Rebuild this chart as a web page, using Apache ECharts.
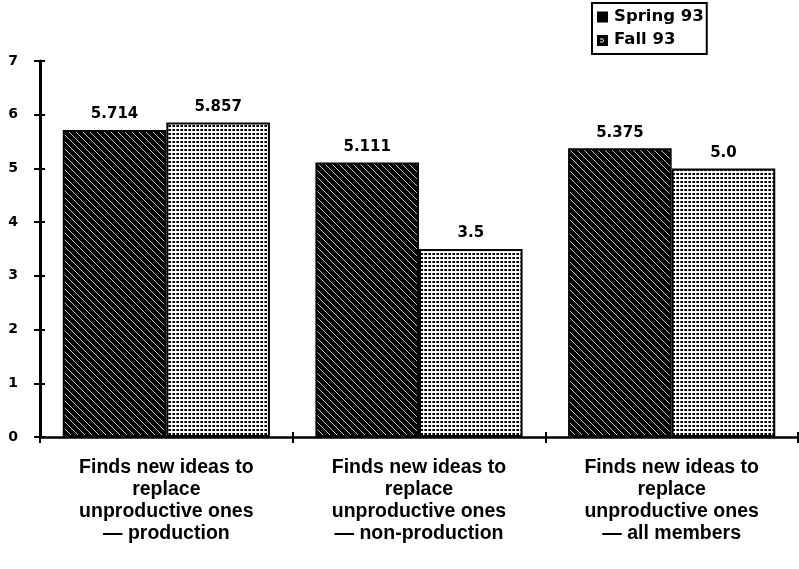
<!DOCTYPE html>
<html>
<head>
<meta charset="utf-8">
<script src="https://cdn.jsdelivr.net/npm/echarts@6/dist/echarts.min.js"></script>
<style>
  html, body { margin: 0; padding: 0; background: #fff; }
  #chart { width: 799px; height: 569px; }
</style>
</head>
<body>
<div id="chart"></div>
<script>
// Survey item: "Finds new ideas to replace unproductive ones"
const categories = [
  'Finds new ideas to\nreplace\nunproductive ones\n\u2014 production',
  'Finds new ideas to\nreplace\nunproductive ones\n\u2014 non-production',
  'Finds new ideas to\nreplace\nunproductive ones\n\u2014 all members'
];
const seriesNames = ['Spring 93', 'Fall 93'];
const spring93 = [5.714, 5.111, 5.375];
const fall93 = [5.857, 3.5, 5.0];
const yTicks = [0, 1, 2, 3, 4, 5, 6, 7];

// Dark fill with light diagonal hatching
function hatchPattern() {
  const c = document.createElement('canvas');
  c.width = 7; c.height = 7;
  const g = c.getContext('2d');
  g.fillStyle = '#000';
  g.fillRect(0, 0, 7, 7);
  g.strokeStyle = '#c8c8c8';
  g.lineWidth = 1;
  g.beginPath();
  g.moveTo(-1, -1); g.lineTo(8, 8);
  g.stroke();
  return c;
}

// Light fill covered with a grid of black dots
function dotPattern() {
  const c = document.createElement('canvas');
  c.width = 4; c.height = 4;
  const g = c.getContext('2d');
  g.fillStyle = '#fff';
  g.fillRect(0, 0, 4, 4);
  g.fillStyle = '#000';
  g.fillRect(1, 1, 2, 2);
  g.fillStyle = '#666';
  g.fillRect(0, 1, 1, 2);
  return c;
}

// Small legend swatch: dark square with a light mark
function fallSwatch() {
  const c = document.createElement('canvas');
  c.width = 11; c.height = 11;
  const g = c.getContext('2d');
  g.fillStyle = '#000';
  g.fillRect(0, 0, 11, 11);
  g.fillStyle = '#fff';
  g.fillRect(3, 4, 3, 1);
  g.fillRect(3, 7, 3, 1);
  g.fillRect(6, 5, 1, 2);
  return c;
}

const hatch = { image: hatchPattern(), repeat: 'repeat' };
const dots = { image: dotPattern(), repeat: 'repeat' };

const fmt = v => (String(v).indexOf('.') >= 0 ? String(v) : v.toFixed(1));

const chart = echarts.init(document.getElementById('chart'), null, { renderer: 'canvas' });

const valueLabel = {
  show: true,
  position: 'top',
  distance: 8,
  fontFamily: 'DejaVu Sans',
  fontWeight: 'bold',
  fontSize: 15,
  color: '#000',
  formatter: p => fmt(p.value)
};

chart.setOption({
  animation: false,
  backgroundColor: '#fff',
  grid: { left: 40, right: 1, top: 61, bottom: 132 },
  legend: {
    orient: 'vertical',
    left: 592,
    top: 3,
    padding: [4, 3, 4, 5],
    itemGap: 3,
    itemWidth: 11,
    itemHeight: 11,
    borderColor: '#000',
    borderWidth: 2,
    textStyle: {
      fontFamily: 'DejaVu Sans',
      fontWeight: 'bold',
      fontSize: 16.5,
      lineHeight: 20,
      color: '#000',
      padding: [0, 0, 0, 1]
    },
    data: [
      { name: seriesNames[0], icon: 'rect', itemStyle: { color: '#000', borderWidth: 0 } },
      { name: seriesNames[1], icon: 'image://' + fallSwatch().toDataURL() }
    ]
  },
  xAxis: [
    {
      type: 'category',
      data: categories,
      boundaryGap: true,
      axisLine: { lineStyle: { color: '#000', width: 2.5 } },
      axisTick: { show: true, length: 6, lineStyle: { color: '#000', width: 2 } },
      axisLabel: {
        margin: 20,
        fontFamily: 'Liberation Sans',
        fontWeight: 'bold',
        fontSize: 19.5,
        lineHeight: 22,
        color: '#000',
        interval: 0
      }
    },
    {
      type: 'category',
      data: categories,
      position: 'bottom',
      offset: 0,
      boundaryGap: true,
      axisLine: { show: false },
      axisTick: { show: true, inside: true, length: 5, lineStyle: { color: '#000', width: 2 } },
      axisLabel: { show: false }
    }
  ],
  yAxis: [
    {
      type: 'value',
      min: yTicks[0],
      max: yTicks[yTicks.length - 1],
      interval: 1,
      splitLine: { show: false },
      axisLine: { show: true, lineStyle: { color: '#000', width: 3 } },
      axisTick: { show: true, length: 6, lineStyle: { color: '#000', width: 2 } },
      axisLabel: {
        margin: 22,
        fontFamily: 'DejaVu Sans',
        fontWeight: 'bold',
        fontSize: 14,
        color: '#000'
      }
    },
    {
      type: 'value',
      position: 'left',
      offset: 0,
      min: yTicks[0],
      max: yTicks[yTicks.length - 1],
      interval: 1,
      splitLine: { show: false },
      axisLine: { show: false },
      axisTick: { show: true, inside: true, length: 5, lineStyle: { color: '#000', width: 2 } },
      axisLabel: { show: false }
    }
  ],
  series: [
    {
      name: seriesNames[0],
      type: 'bar',
      data: spring93,
      barGap: '0%',
      barCategoryGap: '18%',
      itemStyle: { color: hatch, borderColor: '#000', borderWidth: 2 },
      label: valueLabel
    },
    {
      name: seriesNames[1],
      type: 'bar',
      data: fall93,
      itemStyle: { color: dots, borderColor: '#000', borderWidth: 2 },
      label: valueLabel
    }
  ]
});
</script>
</body>
</html>
